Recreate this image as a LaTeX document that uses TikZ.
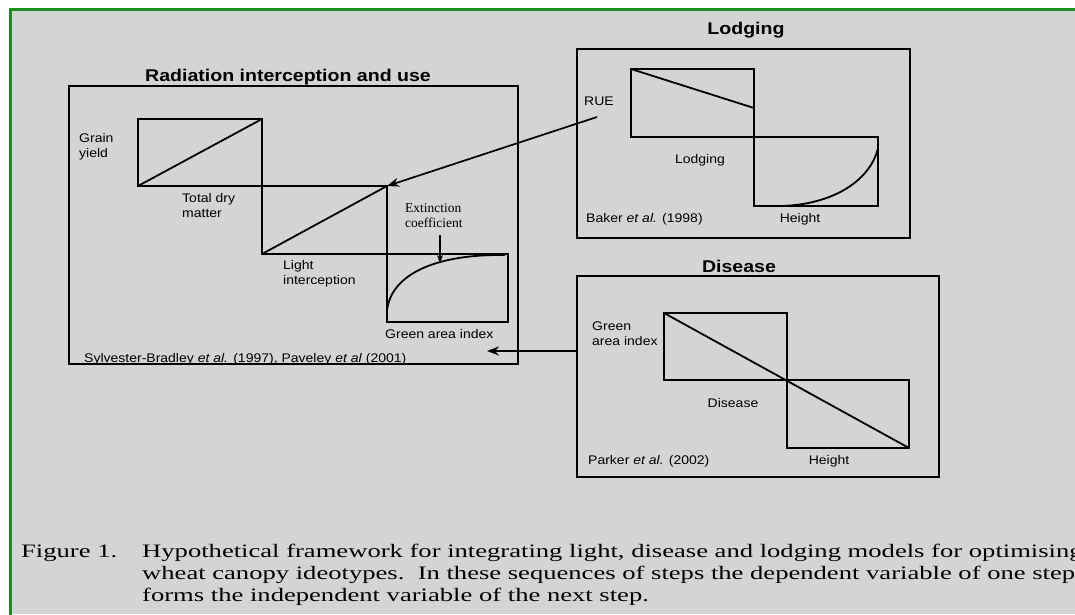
\documentclass[tikz,border=0pt]{standalone}
\usepackage{fontspec}
\setmainfont{Liberation Serif}
\newfontfamily\lab[FakeStretch=1.12]{Liberation Sans}
\newfontfamily\ttlfont[FakeStretch=1.15]{Liberation Sans}
\newfontfamily\capfont[FakeStretch=1.4]{Liberation Serif}
\newfontfamily\extfont{Liberation Serif}
\usetikzlibrary{arrows.meta}
\definecolor{bg}{RGB}{212,212,212}
\definecolor{framegreen}{RGB}{30,140,30}
\begin{document}
\begin{tikzpicture}[x=1pt,y=-1pt,
  boxline/.style={line width=2pt, line join=miter},
  innerline/.style={line width=1.8pt},
  lbl/.style={font=\lab\fontsize{12.5}{14.5}\selectfont, inner sep=0pt, align=left},
  extl/.style={font=\extfont\fontsize{13.5}{15}\selectfont, inner sep=0pt, align=left},
  ttl/.style={font=\ttlfont\bfseries\fontsize{17}{19}\selectfont, inner sep=0pt},
  captext/.style={font=\capfont\fontsize{19}{22}\selectfont, inner sep=0pt},
  arr/.style={line width=1.7pt, -{Stealth[length=12pt,width=9pt]}},
  smallarr/.style={line width=1.4pt, -{Stealth[length=8pt,width=6pt]}},
]
\useasboundingbox (0,0) rectangle (1075,614);
\fill[white] (0,0) rectangle (1075,614);
\fill[bg] (10,9) rectangle (1075,614);
\draw[framegreen, line width=3pt] (10,620) -- (10,9) -- (1080,9);

% ---- Radiation interception and use
\draw[boxline] (69,86) rectangle (518,364);
\draw[innerline] (138,119) rectangle (262,186);
\draw[innerline] (138,186) -- (262,119);
\draw[innerline] (262,186) rectangle (387,254);
\draw[innerline] (262,254) -- (387,186);
\draw[innerline] (387,254) rectangle (508,322);
\draw[innerline] (387,310) .. controls (392,272) and (440,254) .. (505,255);

\node[ttl] (t1) at (288,77) {Radiation interception and use};
\node[lbl, anchor=west] (gy) at (79,147) {Grain\\yield};
\node[lbl, anchor=west] (tdml) at (182,205.5) {Total dry\\matter};
\node[lbl, anchor=west] (li) at (283,274) {Light\\interception};
\node[extl, anchor=west] (ec) at (405,215.5) {Extinction\\coefficient};
\node[lbl, anchor=west] (gai) at (385,334) {Green area index};
\node[lbl, anchor=west] (src1) at (84,359) {Sylvester-Bradley \textit{et al.} (1997), Paveley \textit{et al} (2001)};

\coordinate (ecTail) at (440,235);
\coordinate (ecHit) at (440,263);
\draw[smallarr] (ecTail) -- (ecHit);

% ---- Lodging
\node[ttl] (t2) at (746,30) {Lodging};
\draw[boxline] (577,49) rectangle (910,238);
\draw[innerline] (631,69) rectangle (754,137);
\draw[innerline] (631,69) -- (754,108);
\draw[innerline] (754,137) rectangle (878,206);
\draw[innerline] (777,206) .. controls (830,206) and (870,182) .. (878,148);
\node[lbl, anchor=west] (rue) at (584,101) {RUE};
\node[lbl] (lodg) at (700,160) {Lodging};
\node[lbl, anchor=west] (src2) at (586,219) {Baker \textit{et al.} (1998)};
\node[lbl] (h1) at (800,219) {Height};

% ---- Disease
\node[ttl] (t3) at (739,266) {Disease};
\draw[boxline] (577,276) rectangle (939,477);
\draw[innerline] (664,313) rectangle (787,380);
\draw[innerline] (787,380) rectangle (909,448);
\draw[innerline] (664,313) -- (909,448);
\node[lbl, anchor=west] (gai2) at (592,333.5) {Green\\area index};
\node[lbl] (dis) at (733,403) {Disease};
\node[lbl, anchor=west] (src3) at (588,461) {Parker \textit{et al.} (2002)};
\node[lbl] (h2) at (829,461) {Height};

% ---- connectors
\coordinate (rueTail) at (597,117);
\coordinate (tdmHit) at (387,186);
\draw[arr] (rueTail) -- (tdmHit);
\coordinate (disTail) at (577,351);
\coordinate (radHit) at (487,351);
\draw[arr] (disTail) -- (radHit);

% ---- caption
\node[captext, anchor=base west] (fig) at (21,557) {Figure 1.};
\node[captext, anchor=base west] (c1) at (142,557) {Hypothetical framework for integrating light, disease and lodging models for optimising};
\node[captext, anchor=base west] (c2) at (142,579) {wheat canopy ideotypes.\ \ In these sequences of steps the dependent variable of one step};
\node[captext, anchor=base west] (c3) at (142,601) {forms the independent variable of the next step.};
\end{tikzpicture}
\end{document}
